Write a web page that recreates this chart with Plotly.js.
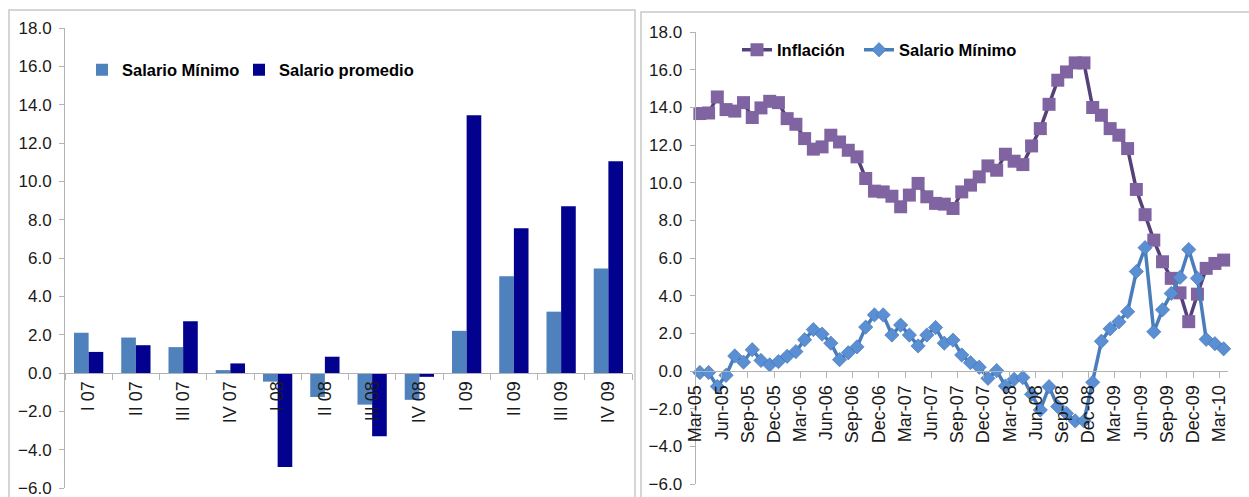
<!DOCTYPE html>
<html>
<head>
<meta charset="utf-8">
<script src="https://cdn.plot.ly/plotly-3.0.1.min.js"></script>
<style>
  html, body { margin: 0; padding: 0; background: #ffffff; }
  #chart { width: 1249px; height: 497px; }
</style>
</head>
<body>
<div id="chart"></div>
<script>
// Quarterly real growth (left panel)
const quarters = ['I 07', 'II 07', 'III 07', 'IV 07', 'I 08', 'II 08', 'III 08', 'IV 08', 'I 09', 'II 09', 'III 09', 'IV 09'];
const salarioMinimoTrim = [2.1, 1.85, 1.35, 0.15, -0.45, -1.25, -1.65, -1.4, 2.2, 5.05, 3.2, 5.45];
const salarioPromedioTrim = [1.1, 1.45, 2.7, 0.5, -4.9, 0.85, -3.3, -0.2, 13.45, 7.55, 8.7, 11.05];

// Monthly series, Mar-05 to Mar-10 (right panel)
const inflacion = [
  13.67, 13.7, 14.55, 13.88, 13.8, 14.25, 13.46, 13.97, 14.32, 14.25,
  13.4, 13.1, 12.34, 11.78, 11.9, 12.52, 12.16, 11.72, 11.37, 10.22,
  9.55, 9.51, 9.28, 8.72, 9.34, 9.96, 9.25, 8.9, 8.86, 8.63,
  9.51, 9.87, 10.31, 10.89, 10.66, 11.51, 11.14, 10.96, 11.95, 12.87,
  14.16, 15.44, 15.88, 16.36, 16.36, 13.99, 13.58, 12.87, 12.52, 11.81,
  9.64, 8.3, 6.95, 5.8, 4.92, 4.15, 2.62, 4.08, 5.45, 5.71, 5.89
];
const salarioMinimoMes = [
  -0.08, -0.08, -0.82, -0.23, 0.8, 0.47, 1.13, 0.56, 0.33, 0.5,
  0.78, 1.03, 1.66, 2.2, 1.96, 1.48, 0.6, 0.97, 1.28, 2.33,
  2.98, 2.98, 1.91, 2.44, 1.91, 1.33, 1.91, 2.31, 1.48, 1.64,
  0.85, 0.44, 0.2, -0.39, 0.02, -0.8, -0.44, -0.35, -1.24, -2.07,
  -0.83, -1.89, -2.25, -2.65, -2.65, -0.6, 1.58, 2.24, 2.61, 3.15,
  5.28, 6.55, 2.08, 3.25, 4.12, 4.97, 6.45, 4.92, 1.68, 1.45, 1.18
];
const monthTicks = ['Mar-05', 'Jun-05', 'Sep-05', 'Dec-05', 'Mar-06', 'Jun-06', 'Sep-06', 'Dec-06',
  'Mar-07', 'Jun-07', 'Sep-07', 'Dec-07', 'Mar-08', 'Jun-08', 'Sep-08', 'Dec-08',
  'Mar-09', 'Jun-09', 'Sep-09', 'Dec-09', 'Mar-10'];

// ---- page geometry (pixels) ----
const W = 1249, H = 497;
const M = { l: 65, r: 21, t: 28, b: 9 };
const PW = W - M.l - M.r, PH = H - M.t - M.b;
const px2x = p => (p - M.l) / PW;
const py2y = p => 1 - (p - M.t) / PH;

const Y_RANGE = [-6, 18];
const zeroFrac = (Y_RANGE[0] * -1) / (Y_RANGE[1] - Y_RANGE[0]);

const leftDomX = [0, px2x(632)];
const rightDomX = [px2x(695.5), 1];
const rightDomY = [py2y(484), py2y(32)];

const FONT = 'Liberation Sans, Arial, Helvetica, sans-serif';
const AXIS_GREY = '#b3b3b3';
const TXT = '#1a1a1a';

const xIdx = inflacion.map((_, i) => i);

const traces = [
  {
    type: 'bar', name: 'Salario Mínimo', x: quarters, y: salarioMinimoTrim,
    xaxis: 'x', yaxis: 'y', marker: { color: '#4f81bd' }, legend: 'legend'
  },
  {
    type: 'bar', name: 'Salario promedio', x: quarters, y: salarioPromedioTrim,
    xaxis: 'x', yaxis: 'y', marker: { color: '#02028e' }, legend: 'legend2'
  },
  {
    type: 'scatter', mode: 'lines+markers', name: 'Inflación', x: xIdx, y: inflacion,
    xaxis: 'x2', yaxis: 'y2', legend: 'legend3', cliponaxis: false,
    line: { color: '#56407a', width: 3.5 },
    marker: { symbol: 'square', size: 13, color: '#8064a2', line: { width: 0 } }
  },
  {
    type: 'scatter', mode: 'lines+markers', name: 'Salario Mínimo', x: xIdx, y: salarioMinimoMes,
    xaxis: 'x2', yaxis: 'y2', legend: 'legend4', cliponaxis: false,
    line: { color: '#4a7ebb', width: 3.5 },
    marker: { symbol: 'diamond', size: 11, color: '#5b8fd3', line: { color: '#3d6fae', width: 0.6 } }
  }
];

const yCommon = {
  range: Y_RANGE, dtick: 2, tick0: 0, tickformat: '.1f',
  showgrid: false, zeroline: false,
  showline: true, linecolor: AXIS_GREY, linewidth: 1,
  ticks: 'outside', ticklen: 5, tickcolor: AXIS_GREY, ticklabelstandoff: 4,
  ticklabeloverflow: 'allow',
  tickfont: { family: FONT, size: 17, color: TXT }
};

const xFont = { family: FONT, size: 18, color: TXT };
const legendFont = { family: FONT, size: 16.5, weight: 'bold', color: '#000' };

// one legend box per entry so each label sits at its own spot
const legendAt = (px, py) => ({
  orientation: 'h', x: px2x(px), y: py2y(py), xanchor: 'left', yanchor: 'middle',
  bgcolor: 'rgba(0,0,0,0)', font: legendFont, itemwidth: 30
});

const layout = {
  width: W, height: H,
  margin: M,
  paper_bgcolor: '#ffffff', plot_bgcolor: 'rgba(0,0,0,0)',
  barmode: 'group', bargap: 0.38, bargroupgap: 0,
  showlegend: true,
  xaxis: {
    domain: leftDomX, type: 'category', range: [-0.5, quarters.length - 0.5],
    anchor: 'free', position: zeroFrac,
    showgrid: false, zeroline: false,
    showline: true, linecolor: AXIS_GREY, linewidth: 1,
    ticks: 'outside', ticklen: 6, tickcolor: AXIS_GREY, tickson: 'boundaries',
    tickangle: -90, tickfont: xFont
  },
  yaxis: Object.assign({ domain: [0, 1], anchor: 'x' }, yCommon),
  xaxis2: {
    domain: rightDomX, type: 'linear', range: [-0.5, inflacion.length - 0.5],
    anchor: 'free', position: rightDomY[0] + zeroFrac * (rightDomY[1] - rightDomY[0]),
    showgrid: false, zeroline: false,
    showline: true, linecolor: AXIS_GREY, linewidth: 1,
    tickmode: 'array',
    tickvals: monthTicks.map((_, k) => 3 * k - 0.5),
    ticktext: monthTicks,
    ticklabelshift: 4.4,
    ticks: 'outside', ticklen: 6, tickcolor: AXIS_GREY,
    tickangle: -90, tickfont: xFont
  },
  yaxis2: Object.assign({ domain: rightDomY, anchor: 'x2' }, yCommon),
  legend: legendAt(82, 70),
  legend2: legendAt(239, 70),
  legend3: legendAt(737, 50),
  legend4: legendAt(859, 50),
  shapes: [
    // panel frames
    {
      type: 'rect', xref: 'paper', yref: 'paper', layer: 'below',
      x0: px2x(9), x1: px2x(635), y0: py2y(520), y1: py2y(10),
      line: { color: '#c8c8c8', width: 1.5 }, fillcolor: 'rgba(0,0,0,0)'
    },
    {
      type: 'rect', xref: 'paper', yref: 'paper', layer: 'below',
      x0: px2x(641), x1: px2x(1270), y0: py2y(520), y1: py2y(12),
      line: { color: '#c8c8c8', width: 1.5 }, fillcolor: 'rgba(0,0,0,0)'
    }
  ]
};

Plotly.newPlot('chart', traces, layout, { displayModeBar: false, staticPlot: true });
</script>
</body>
</html>
